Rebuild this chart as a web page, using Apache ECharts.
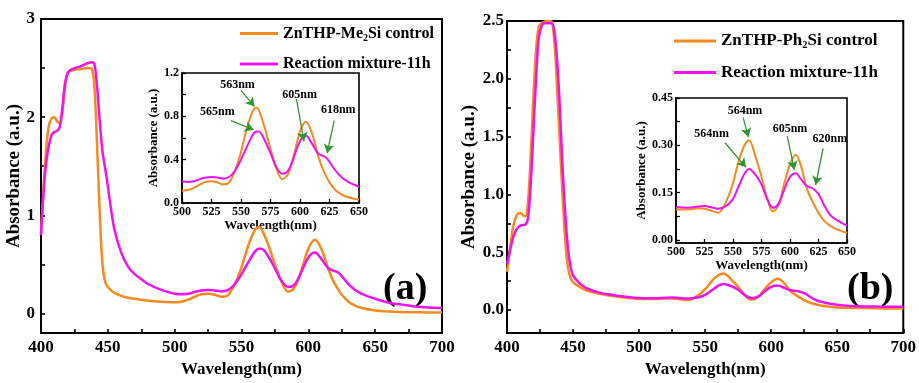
<!DOCTYPE html>
<html><head><meta charset="utf-8">
<script src="https://cdn.jsdelivr.net/npm/echarts@6/dist/echarts.min.js"></script>
<style>html,body{margin:0;padding:0;background:#fff}#c{width:919px;height:383px}</style>
</head><body><div id="c"></div>
<script>
// ---------- DATA ----------
const wlA = [400,402,404,406,408,410,412,414,416,418,420,422,425,430,435,438,440,442,444,446,448,450,452,455,460,465,470,475,480,490,500,505,510,515,520,525,530,535,540,545,550,555,560,563,565,570,575,580,585,590,595,600,605,610,615,618,622,625,630,635,640,650,660,670,680,690,700];
const meControl = [0.8,1.3,1.7,1.92,1.99,2.0,1.96,1.94,2.05,2.3,2.45,2.47,2.48,2.49,2.5,2.49,2.3,1.7,1.0,0.5,0.32,0.27,0.24,0.21,0.18,0.16,0.15,0.14,0.13,0.12,0.115,0.12,0.14,0.17,0.195,0.2,0.19,0.17,0.19,0.3,0.47,0.69,0.85,0.88,0.86,0.7,0.5,0.32,0.22,0.27,0.45,0.66,0.75,0.65,0.45,0.35,0.25,0.19,0.12,0.08,0.055,0.03,0.02,0.015,0.012,0.01,0.01];
const meReaction = [0.8,1.25,1.55,1.72,1.82,1.85,1.86,1.9,2.1,2.35,2.45,2.48,2.5,2.52,2.55,2.56,2.54,2.3,1.95,1.65,1.48,1.3,1.1,0.85,0.62,0.48,0.4,0.35,0.3,0.24,0.2,0.195,0.2,0.22,0.235,0.24,0.235,0.225,0.24,0.3,0.4,0.52,0.63,0.66,0.66,0.58,0.46,0.33,0.27,0.3,0.43,0.57,0.62,0.55,0.46,0.44,0.42,0.38,0.3,0.24,0.2,0.15,0.11,0.09,0.07,0.06,0.055];

const wlB = [400,402,404,406,408,410,412,414,416,418,420,422,424,426,428,430,432,434,436,438,440,442,444,446,448,450,455,460,470,480,490,500,510,520,525,530,537,545,550,555,560,564,570,575,580,585,590,595,600,605,610,615,620,625,630,635,640,650,660,680,700];
const phControl = [0.33,0.5,0.68,0.78,0.83,0.84,0.82,0.81,0.95,1.35,1.85,2.25,2.45,2.48,2.49,2.5,2.5,2.49,2.3,1.9,1.45,1.0,0.62,0.38,0.28,0.24,0.2,0.17,0.14,0.12,0.105,0.096,0.096,0.1,0.099,0.094,0.086,0.13,0.18,0.25,0.3,0.316,0.26,0.2,0.13,0.09,0.11,0.18,0.24,0.27,0.23,0.16,0.12,0.085,0.06,0.045,0.035,0.022,0.018,0.015,0.012];
const phReaction = [0.4,0.5,0.6,0.67,0.71,0.73,0.735,0.74,0.8,1.1,1.55,2.0,2.35,2.45,2.48,2.48,2.48,2.48,2.4,2.15,1.75,1.25,0.85,0.55,0.38,0.3,0.23,0.19,0.15,0.13,0.115,0.104,0.102,0.106,0.107,0.104,0.099,0.11,0.13,0.17,0.21,0.225,0.205,0.175,0.13,0.102,0.115,0.16,0.2,0.211,0.19,0.17,0.163,0.145,0.11,0.08,0.065,0.045,0.035,0.03,0.028];

const seriesNames = ['ZnTHP-Me2Si control','Reaction mixture-11h','ZnTHP-Ph2Si control'];
const mainXTicks = [400,425,450,475,500,525,550,575,600,625,650,675,700];
const mainAYLabels = [0,1,2,3];
const mainAYTicks = [0,0.5,1,1.5,2,2.5,3];
const mainBYLabels = [0,0.5,1,1.5,2,2.5];
const mainBYTicks = [0,0.25,0.5,0.75,1,1.25,1.5,1.75,2,2.25,2.5];
const insetXTicks = [500,525,550,575,600,625,650];
const insetAYLabels = [0,0.4,0.8,1.2];
const insetAYTicks = [0,0.2,0.4,0.6,0.8,1.0,1.2];
const insetBYLabels = [0,0.15,0.30,0.45];
const insetBYTicks = [0,0.075,0.15,0.225,0.30,0.375,0.45];

// annotations: [label, labelX, labelY, arrowStartX, arrowStartY, arrowEndX, arrowEndY]
const annotA_control = [['563nm',547,1.09,550,1.04,561.4,0.89],['605nm',599.7,1.0,597,0.96,603.4,0.57]];
const annotA_reaction = [['565nm',530,0.84,541.5,0.76,560.8,0.676],['618nm',632.4,0.86,629,0.76,623,0.46]];
const annotB_control = [['564nm',560.5,0.409,559,0.388,563.4,0.326],['605nm',600,0.353,597.6,0.329,603.8,0.222]];
const annotB_reaction = [['564nm',531.3,0.337,543,0.308,561.4,0.23],['620nm',635,0.32,629,0.29,622.5,0.174]];

// ---------- STYLE ----------
const F = '"Liberation Serif","Times New Roman",serif';
const ORANGE = '#f58a1f', MAGENTA = '#f013f0', GREEN = '#2f952f';
const zip = (xs, ys, lo, hi) => xs.map((x,i)=>[x,ys[i]]).filter(p=>p[0]>=lo && p[0]<=hi);

function xAxis(gi, min, max, interval, ticks, fs, margin, nameGap, nameFs, lw){
  return {type:'value', gridIndex:gi, min, max, interval,
    name:'Wavelength(nm)', nameLocation:'middle', nameGap,
    nameTextStyle:{fontFamily:F, fontWeight:'bold', fontSize:nameFs, color:'#000'},
    axisLine:{show:true, onZero:false, lineStyle:{color:'#000', width:lw}},
    axisTick:{show:true, inside:true, length:4, customValues:ticks, lineStyle:{color:'#000', width:lw*0.8}},
    axisLabel:{fontFamily:F, fontWeight:'bold', fontSize:fs, color:'#000', margin},
    splitLine:{show:false}};
}
function yAxis(gi, min, max, labels, ticks, fmt, fs, margin, nameGap, nameFs, lw, noMove){
  const ax = {type:'value', gridIndex:gi, min, max,
    name:'Absorbance (a.u.)', nameLocation:'middle', nameGap, nameRotate:90,
    nameTextStyle:{fontFamily:F, fontWeight:'bold', fontSize:nameFs, color:'#000'},
    axisLine:{show:true, onZero:false, lineStyle:{color:'#000', width:lw}},
    axisTick:{show:true, inside:true, length:4, customValues:ticks, lineStyle:{color:'#000', width:lw*0.8}},
    axisLabel:{fontFamily:F, fontWeight:'bold', fontSize:fs, color:'#000', margin, customValues:labels, formatter:fmt},
    splitLine:{show:false}};
  if (noMove) ax.nameMoveOverlap = false;
  return ax;
}
function annot(list, fs){
  return {
    markLine:{silent:true, symbol:['none','arrow'], symbolSize:[8,9], animation:false,
      lineStyle:{color:GREEN, width:1.3, type:'solid'}, label:{show:false},
      data:list.map(a=>[{coord:[a[3],a[4]]},{coord:[a[5],a[6]]}])},
    markPoint:{silent:true, symbol:'circle', symbolSize:0, animation:false,
      label:{show:true, position:'inside', color:'#000', fontFamily:F, fontWeight:'bold', fontSize:fs, formatter:p=>p.name},
      data:list.map(a=>({name:a[0], coord:[a[1],a[2]]}))}
  };
}
function line(name, data, xi, yi, color, w, extra){
  return Object.assign({type:'line', name, data, xAxisIndex:xi, yAxisIndex:yi, showSymbol:false, symbol:'none',
    smooth:0.35, lineStyle:{color, width:w}, itemStyle:{color}, animation:false, silent:true, z:3}, extra||{});
}

const legendRich = fs => ({t:{fontFamily:F, fontWeight:'bold', fontSize:fs, color:'#000', lineHeight:20},
  s:{fontFamily:F, fontWeight:'bold', fontSize:fs*0.62, color:'#000', lineHeight:12, padding:[9,0,0,0]}});
const legendFmt = n => n.indexOf('2Si')>=0 ? '{t|'+n.split('2Si')[0]+'}{s|2}{t|Si'+n.split('2Si')[1]+'}' : '{t|'+n+'}';

const chart = echarts.init(document.getElementById('c'), null, {renderer:'canvas'});
chart.setOption({
  backgroundColor:'#fff',
  animation:false,
  grid:[
    {left:41, top:19, width:401, height:319, show:true, borderColor:'#000', borderWidth:2, containLabel:false},
    {left:182, top:73, width:177, height:130, show:true, borderColor:'#000', borderWidth:1.6, containLabel:false},
    {left:507, top:21, width:397, height:314, show:true, borderColor:'#000', borderWidth:2, containLabel:false},
    {left:676, top:98, width:171, height:145, show:true, borderColor:'#000', borderWidth:1.6, containLabel:false}
  ],
  xAxis:[
    xAxis(0,400,700,50,mainXTicks,17,6,24,17,2),
    xAxis(1,500,650,25,insetXTicks,12,3,16,13,1.6),
    xAxis(2,400,700,50,mainXTicks,17,6,24,17,2),
    xAxis(3,500,650,25,insetXTicks,12,3,16,13,1.6)
  ],
  yAxis:[
    yAxis(0,-0.2,3.0,mainAYLabels,mainAYTicks,v=>String(v),17,6,17,19,2,true),
    yAxis(1,0,1.2,insetAYLabels,insetAYTicks,v=>v.toFixed(1),12,3,20,13,1.6),
    yAxis(2,-0.2,2.5,mainBYLabels,mainBYTicks,v=>v.toFixed(1),17,3,28,19,2),
    yAxis(3,-0.01,0.45,insetBYLabels,insetBYTicks,v=>v.toFixed(2),12,3,27,13,1.6)
  ],
  legend:[
    {orient:'vertical', left:235, top:19, itemWidth:38, itemHeight:3, icon:'rect', itemGap:13,
      data:[seriesNames[0], seriesNames[1]], selectedMode:false, formatter:legendFmt,
      textStyle:{rich:legendRich(16)}},
    {orient:'vertical', left:669, top:26, itemWidth:42, itemHeight:3, icon:'rect', itemGap:13,
      data:[seriesNames[2], seriesNames[1]], selectedMode:false, formatter:legendFmt,
      textStyle:{rich:legendRich(17)}}
  ],
  graphic:[
    {type:'text', left:383, top:270, style:{text:'(a)', font:'bold 38px '+F, fill:'#000'}},
    {type:'text', left:847, top:270, style:{text:'(b)', font:'bold 38px '+F, fill:'#000'}}
  ],
  series:[
    line(seriesNames[0], zip(wlA, meControl, 400, 700), 0, 0, ORANGE, 2.5),
    line(seriesNames[1], zip(wlA, meReaction, 400, 700), 0, 0, MAGENTA, 2.5),
    line(seriesNames[0], zip(wlA, meControl, 495, 655), 1, 1, ORANGE, 2, annot(annotA_control, 12)),
    line(seriesNames[1], zip(wlA, meReaction, 495, 655), 1, 1, MAGENTA, 2, annot(annotA_reaction, 12)),
    line(seriesNames[2], zip(wlB, phControl, 400, 700), 2, 2, ORANGE, 2.5),
    line(seriesNames[1], zip(wlB, phReaction, 400, 700), 2, 2, MAGENTA, 2.5),
    line(seriesNames[2], zip(wlB, phControl, 495, 655), 3, 3, ORANGE, 2, annot(annotB_control, 12)),
    line(seriesNames[1], zip(wlB, phReaction, 495, 655), 3, 3, MAGENTA, 2, annot(annotB_reaction, 12))
  ]
});
</script></body></html>
